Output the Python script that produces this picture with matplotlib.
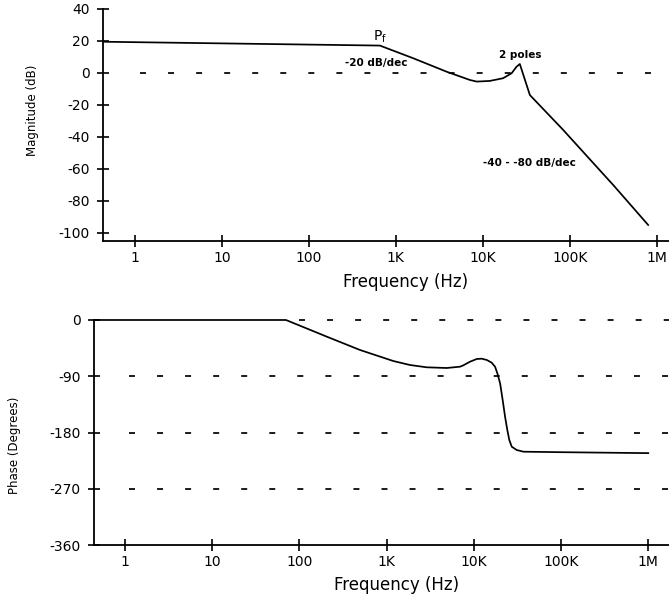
import matplotlib
matplotlib.use("Agg")
import matplotlib.pyplot as plt
from matplotlib.ticker import NullLocator

# magnitude response (Hz, dB)
mag_freq = [0.43, 655, 1580, 3820, 7100, 8500, 12000, 17100, 21400, 24400, 26600, 34700,
            83800, 203000, 315000, 795000]
mag_db = [19.5, 17.1, 9.2, 0.8, -4.4, -5.4, -5.0, -3.3, -0.2, 3.9, 5.6, -13.8,
          -35.6, -58.6, -70.0, -95.0]

# phase response (Hz, degrees)
phase_freq = [0.44, 70, 206, 495, 1190, 1850, 2880, 4890, 6950, 7580, 9040, 10800,
              12300, 14100, 16000, 17500, 18600, 20000, 21400, 22800, 24200, 25500,
              27200, 31000, 37000, 100000, 1000000]
phase_deg = [0, 0, -26.7, -48, -65.6, -72, -75.7, -76.8, -74.7, -72.5, -66.7, -62.4,
             -61.9, -64, -68.3, -74.7, -85.3, -101.3, -128, -154.7, -176, -192,
             -202.7, -208, -210.7, -211.5, -213]

freq_ticks = [1, 10, 100, 1e3, 1e4, 1e5, 1e6]
freq_labels = ['1', '10', '100', '1K', '10K', '100K', '1M']
mag_ticks = [-100, -80, -60, -40, -20, 0, 20, 40]
phase_ticks = [-360, -270, -180, -90, 0]

plt.rcParams['font.family'] = ['DejaVu Sans']

fig = plt.figure(figsize=(6.69, 5.95), dpi=100)
ax1 = fig.add_axes([0.154, 0.595, 0.846, 0.390])
ax2 = fig.add_axes([0.1405, 0.084, 0.8595, 0.3782])


def style_axes(ax):
    ax.set_xscale('log')
    for side in ('top', 'right'):
        ax.spines[side].set_visible(False)
    for side in ('left', 'bottom'):
        ax.spines[side].set_linewidth(1.3)
    ax.xaxis.set_minor_locator(NullLocator())
    ax.set_xticks(freq_ticks)
    ax.set_xticklabels(freq_labels)
    ax.tick_params(direction='inout', length=9, width=1.2, labelsize=10)
    ax.tick_params(axis='x', pad=3)
    ax.tick_params(axis='y', pad=5)


lw = 1.25
dash = (4.3 / lw, 15.9 / lw)

# magnitude plot
style_axes(ax1)
ax1.set_xlim(0.43, 1.38e6)
ax1.set_ylim(-105, 40)
ax1.set_yticks(mag_ticks)
ax1.set_yticklabels([str(t) for t in mag_ticks])
ax1.plot([1.15, 1.38e6], [0, 0], color='black', lw=lw, dashes=dash)
ax1.plot(mag_freq, mag_db, color='black', lw=lw)
ax1.text(655, 22.5, 'P$_\\mathregular{f}$', fontsize=10, ha='center', va='center')
ax1.text(590, 6.3, '-20 dB/dec', fontsize=7.5, fontweight='bold', ha='center', va='center')
ax1.text(26600, 11, '2 poles', fontsize=7.5, fontweight='bold', ha='center', va='center')
ax1.text(34700, -56, '-40 - -80 dB/dec', fontsize=7.5, fontweight='bold',
         ha='center', va='center')
ax1.set_xlabel('Frequency (Hz)', fontsize=12)
ax1.xaxis.label.set_va('center')
ax1.xaxis.set_label_coords(0.535, -0.177)
ax1.set_ylabel('Magnitude (dB)', fontsize=8.5)
ax1.yaxis.label.set_va('center')
ax1.yaxis.set_label_coords(-0.124, 0.565)

# phase plot
style_axes(ax2)
ax2.set_xlim(0.44, 1.73e6)
ax2.set_ylim(-360, 0)
ax2.set_yticks(phase_ticks)
ax2.set_yticklabels([str(t) for t in phase_ticks])
ax2.plot([100, 1.73e6], [0, 0], color='black', lw=lw, dashes=dash, clip_on=False)
for level in (-90, -180, -270):
    ax2.plot([1.1, 1.73e6], [level, level], color='black', lw=lw, dashes=dash)
ax2.plot(phase_freq, phase_deg, color='black', lw=lw, clip_on=False)
ax2.set_xlabel('Frequency (Hz)', fontsize=12)
ax2.xaxis.label.set_va('center')
ax2.xaxis.set_label_coords(0.527, -0.178)
ax2.set_ylabel('Phase (Degrees)', fontsize=8.5)
ax2.yaxis.label.set_va('center')
ax2.yaxis.set_label_coords(-0.139, 0.444)

fig.savefig('out.png', dpi=100)
